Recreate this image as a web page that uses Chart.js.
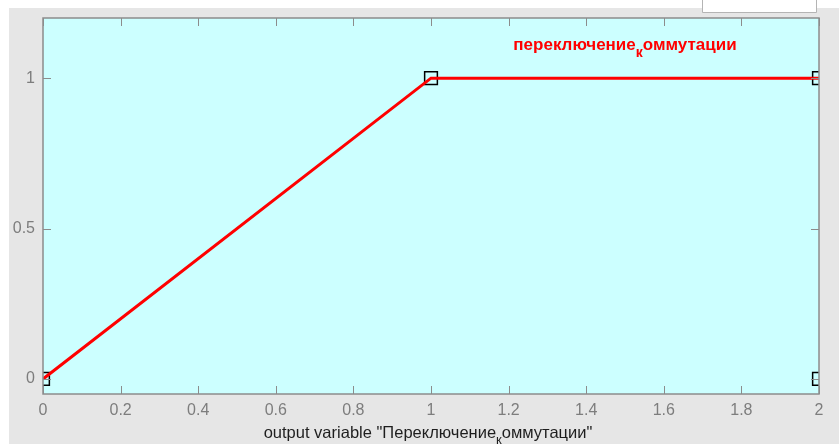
<!DOCTYPE html>
<html>
<head>
    <title>Membership function</title>
    <style>
        body { margin: 0; background: #ffffff; }
        #wrap { position: relative; width: 839px; height: 444px; }
    </style>
    <script src="https://cdn.jsdelivr.net/npm/chart.js"></script>
</head>
<body>
    <div id="wrap"><canvas id="graph" width="839" height="444"></canvas></div>

    <script>
        // membership function of the output variable
        const mfX = [0, 1, 2];
        const mfY = [0, 1, 1];
        // square handles of the trapezoid parameters
        const handleX = [0, 1, 2, 2];
        const handleY = [0, 1, 1, 0];
        const xTicks = [0, 0.2, 0.4, 0.6, 0.8, 1, 1.2, 1.4, 1.6, 1.8, 2];
        const xTickLabels = ['0', '0.2', '0.4', '0.6', '0.8', '1', '1.2', '1.4', '1.6', '1.8', '2'];
        const yTicks = [0, 0.5, 1];
        const yTickLabels = ['0', '0.5', '1'];
        const mfName = ['переключение', 'к', 'оммутации'];
        const mfNamePos = [1.5, 1.11];
        const axisTitle = ['output variable "Переключение', 'к', 'оммутации"'];

        const canvas = document.getElementById('graph');
        canvas.style.width = '839px';
        canvas.style.height = '444px';
        const ctx = canvas.getContext('2d');

        // text with a subscript part in the middle, centred on x
        function drawSubText(c, parts, x, y, size, color, bold) {
            const f = (bold ? 'bold ' : '') + size + 'px Arial';
            const fs = (bold ? 'bold ' : '') + Math.round(size * 0.8) + 'px Arial';
            c.font = f;
            const w0 = c.measureText(parts[0]).width;
            const w2 = c.measureText(parts[2]).width;
            c.font = fs;
            const w1 = c.measureText(parts[1]).width;
            let sx = x - (w0 + w1 + w2) / 2;
            c.fillStyle = color;
            c.textAlign = 'left';
            c.textBaseline = 'middle';
            c.font = f;
            c.fillText(parts[0], sx, y);
            c.font = fs;
            c.fillText(parts[1], sx + w0, y + size * 0.45);
            c.font = f;
            c.fillText(parts[2], sx + w0 + w1, y);
        }

        const frame = {
            id: 'frame',
            beforeDraw(chart) {
                const c = chart.ctx;
                const a = chart.chartArea;
                c.save();
                c.fillStyle = '#ffffff';
                c.fillRect(0, 0, chart.width, chart.height);
                c.fillStyle = '#e6e6e6';
                c.fillRect(9, 8, chart.width - 9, chart.height - 8);
                c.fillStyle = '#ffffff';
                c.fillRect(702, 0, 115, 12);
                c.strokeStyle = '#b4b4b4';
                c.lineWidth = 1;
                c.beginPath();
                c.moveTo(702.5, 0);
                c.lineTo(702.5, 12.5);
                c.lineTo(816.5, 12.5);
                c.lineTo(816.5, 0);
                c.stroke();
                c.fillStyle = '#ccffff';
                c.fillRect(a.left, a.top, a.right - a.left, a.bottom - a.top);
                c.restore();
            },
            afterDraw(chart) {
                const c = chart.ctx;
                const a = chart.chartArea;
                const xs = chart.scales.x;
                const ys = chart.scales.y;
                c.save();
                c.strokeStyle = '#8c8c8c';
                c.lineWidth = 1;
                c.beginPath();
                xTicks.forEach(v => {
                    const px = Math.round(xs.getPixelForValue(v)) + 0.5;
                    c.moveTo(px, a.bottom); c.lineTo(px, a.bottom - 8);
                    c.moveTo(px, a.top); c.lineTo(px, a.top + 8);
                });
                yTicks.forEach(v => {
                    const py = Math.round(ys.getPixelForValue(v)) + 0.5;
                    c.moveTo(a.left, py); c.lineTo(a.left + 8, py);
                    c.moveTo(a.right, py); c.lineTo(a.right - 8, py);
                });
                c.stroke();
                c.lineWidth = 1.5;
                c.strokeRect(a.left, a.top, a.right - a.left, a.bottom - a.top);

                drawSubText(c, mfName, xs.getPixelForValue(mfNamePos[0]), ys.getPixelForValue(mfNamePos[1]), 17, '#ff0000', true);
                drawSubText(c, axisTitle, (a.left + a.right) / 2 - 3, 433, 16.5, '#1e1e1e', false);
                c.restore();
            }
        };

        new Chart(ctx, {
            type: 'line',
            data: {
                datasets: [{
                    data: mfX.map((x, i) => ({ x: x, y: mfY[i] })),
                    borderColor: '#ff0000',
                    borderWidth: 3,
                    pointRadius: 0,
                    fill: false,
                    tension: 0,
                    clip: 0
                }, {
                    type: 'scatter',
                    data: handleX.map((x, i) => ({ x: x, y: handleY[i] })),
                    pointStyle: 'rect',
                    pointRadius: 9,
                    borderColor: '#000000',
                    backgroundColor: 'rgba(0,0,0,0)',
                    borderWidth: 1.5,
                    showLine: false,
                    clip: 0
                }]
            },
            options: {
                responsive: false,
                animation: false,
                devicePixelRatio: 1,
                layout: { padding: { left: 0, top: 18, right: 20, bottom: 0 } },
                plugins: {
                    legend: { display: false },
                    tooltip: { enabled: false }
                },
                scales: {
                    x: {
                        type: 'linear',
                        min: 0,
                        max: 2,
                        afterBuildTicks: s => { s.ticks = xTicks.map(v => ({ value: v })); },
                        afterFit: s => { s.height = 50; },
                        grid: { display: false, drawTicks: false },
                        border: { display: false },
                        ticks: {
                            padding: 7,
                            maxRotation: 0,
                            autoSkip: false,
                            color: '#7d7d7d',
                            font: { family: 'Arial', size: 16 },
                            callback: (v, i) => xTickLabels[i]
                        }
                    },
                    y: {
                        type: 'linear',
                        min: -0.05,
                        max: 1.2,
                        afterBuildTicks: s => { s.ticks = yTicks.map(v => ({ value: v })); },
                        afterFit: s => { s.width = 43; },
                        grid: { display: false, drawTicks: false },
                        border: { display: false },
                        ticks: {
                            padding: 8,
                            autoSkip: false,
                            color: '#7d7d7d',
                            font: { family: 'Arial', size: 16 },
                            callback: (v, i) => yTickLabels[i]
                        }
                    }
                }
            },
            plugins: [frame]
        });
    </script>
</body>
</html>
